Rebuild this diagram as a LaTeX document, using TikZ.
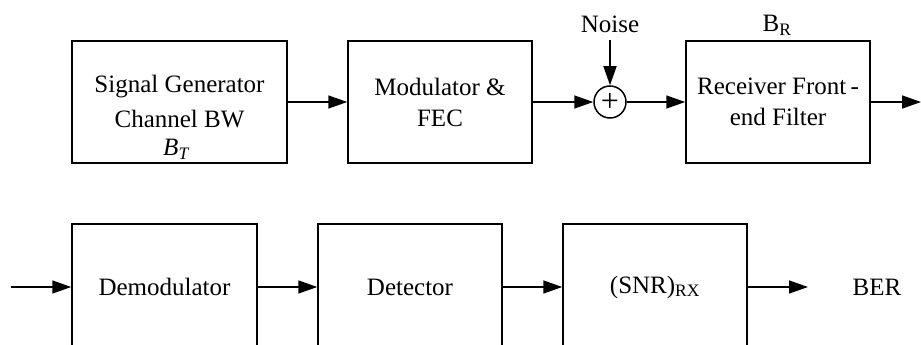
\documentclass[tikz,border=0pt]{standalone}
\usepackage{fontspec}
\setmainfont{Liberation Serif}
\usetikzlibrary{arrows.meta}
\begin{document}
\begin{tikzpicture}[x=1pt,y=-1pt,
  every node/.style={font=\fontsize{25}{31}\selectfont},
  blk/.style={draw,line width=1.5pt,rectangle,inner sep=0pt,align=center},
  conn/.style={line width=1.5pt,-{Triangle[length=19pt,width=13pt]}},
  sumnode/.style={draw,line width=1.5pt,circle,minimum size=32pt,inner sep=0pt}]
\useasboundingbox (0,0) rectangle (921,345);
\clip (0,0) rectangle (921,345);
% top row
\node[blk,minimum width=215pt,minimum height=122pt] (sg) at (179.5,102) {};
\node at (179.5,87) {Signal Generator};
\node at (179.5,119) {Channel BW};
\node at (176,149) {\itshape B\textsubscript{\itshape T}};
\node[blk,minimum width=184pt,minimum height=122pt] (mod) at (440,102) {Modulator \&\\FEC};
\node[sumnode] (sum) at (610,102) {};
\node[font=\fontsize{32}{32}\selectfont,inner sep=0pt] (plus) at (610,102.5) {+};
\node[anchor=base,inner sep=0pt] (noise) at (610,33) {Noise};
\node[blk,minimum width=184pt,minimum height=122pt] (rx) at (778,102) {Receiver Front\,-\\end Filter};
\node[inner sep=0pt] (br) at (777,25) {B\textsubscript{R}};
\coordinate (out) at (921,102);
\draw[conn] (sg) -- (mod);
\draw[conn] (mod) -- (sum);
\draw[conn,shorten <=7pt] (noise.south) -- (sum);
\draw[conn] (sum) -- (rx);
\draw[conn] (rx) -- (out);
% bottom row
\coordinate (in) at (11,287);
\node[blk,minimum width=185pt,minimum height=126pt] (dem) at (164.5,287) {Demodulator};
\node[blk,minimum width=184pt,minimum height=126pt] (det) at (410,287) {Detector};
\node[blk,minimum width=184pt,minimum height=126pt] (snr) at (655,287) {(SNR)\textsubscript{RX}};
\node[inner sep=0pt] (ber) at (877,287) {BER};
\coordinate (berin) at (808,287);
\draw[conn] (in) -- (dem);
\draw[conn] (dem) -- (det);
\draw[conn] (det) -- (snr);
\draw[conn] (snr) -- (berin);
\end{tikzpicture}
\end{document}
